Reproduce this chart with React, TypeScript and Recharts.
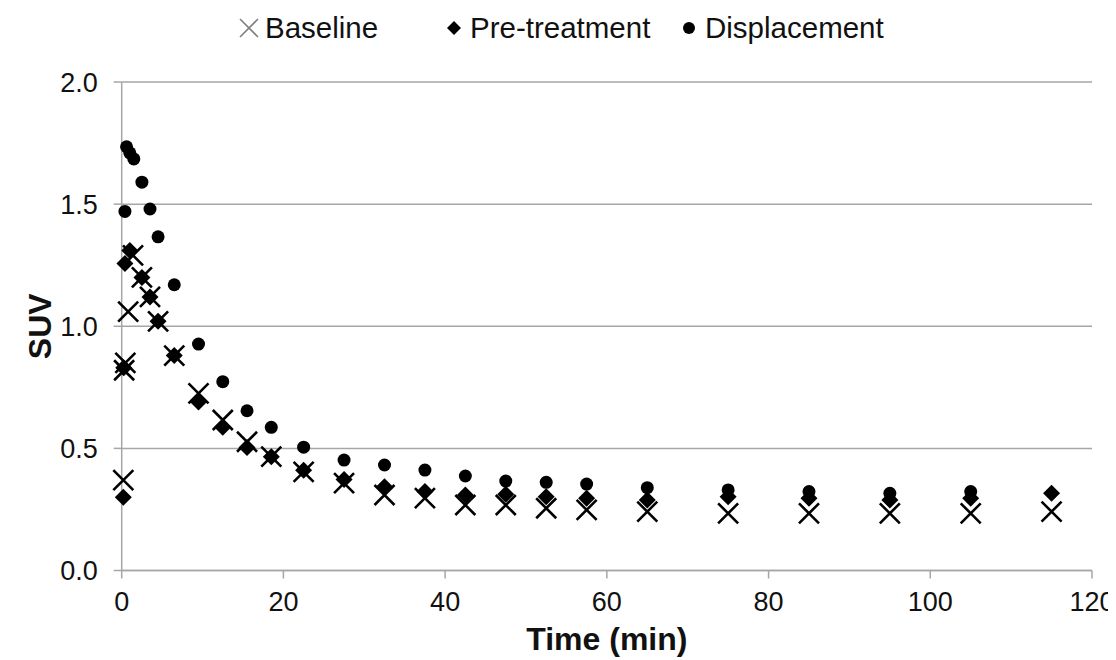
import { ScatterChart, Scatter, XAxis, YAxis, CartesianGrid, Legend } from "recharts"

// time (min) and SUV per scan
const baselineTime = [0.2, 0.3, 0.45, 0.8, 1.4, 2.5, 3.5, 4.5, 6.5, 9.5, 12.5, 15.5, 18.5, 22.5, 27.5, 32.5, 37.5, 42.5, 47.5, 52.5, 57.5, 65, 75, 85, 95, 105, 115]
const baselineSuv = [0.37, 0.82, 0.85, 1.06, 1.29, 1.2, 1.12, 1.02, 0.88, 0.725, 0.616, 0.527, 0.466, 0.404, 0.358, 0.309, 0.296, 0.268, 0.268, 0.255, 0.248, 0.241, 0.234, 0.234, 0.234, 0.234, 0.241]

const preTime = [0.2, 0.25, 0.4, 1.0, 2.5, 3.5, 4.5, 6.5, 9.5, 12.5, 15.5, 18.5, 22.5, 27.5, 32.5, 37.5, 42.5, 47.5, 52.5, 57.5, 65, 75, 85, 95, 105, 115]
const preSuv = [0.3, 0.83, 1.257, 1.31, 1.2, 1.12, 1.02, 0.88, 0.69, 0.586, 0.504, 0.466, 0.41, 0.373, 0.343, 0.323, 0.309, 0.312, 0.302, 0.296, 0.289, 0.302, 0.296, 0.289, 0.296, 0.316]

const dispTime = [0.4, 0.6, 1.0, 1.5, 2.5, 3.5, 4.5, 6.5, 9.5, 12.5, 15.5, 18.5, 22.5, 27.5, 32.5, 37.5, 42.5, 47.5, 52.5, 57.5, 65, 75, 85, 95, 105]
const dispSuv = [1.47, 1.735, 1.71, 1.685, 1.59, 1.48, 1.366, 1.17, 0.927, 0.773, 0.654, 0.586, 0.505, 0.452, 0.432, 0.411, 0.387, 0.366, 0.361, 0.354, 0.339, 0.33, 0.323, 0.316, 0.323]

const xTicks = [0, 20, 40, 60, 80, 100, 120]
const yTicks = [0, 0.5, 1, 1.5, 2]

const toPoints = (t: number[], v: number[]) => t.map((x, i) => ({ time: x, suv: v[i] }))

const baseline = toPoints(baselineTime, baselineSuv)
const pre = toPoints(preTime, preSuv)
const disp = toPoints(dispTime, dispSuv)

const FONT = "'Liberation Sans', Arial, sans-serif"
const GRAY = "#a6a6a6"

const CrossShape = (props: any) => {
    const { cx, cy } = props
    const s = 10
    return (
        <path
            d={`M${cx - s},${cy - s}L${cx + s},${cy + s}M${cx - s},${cy + s}L${cx + s},${cy - s}`}
            stroke="#000"
            strokeWidth={2.6}
            fill="none"
        />
    )
}

const DiamondShape = (props: any) => {
    const { cx, cy } = props
    const s = 8.5
    return <path d={`M${cx},${cy - s}L${cx + s},${cy}L${cx},${cy + s}L${cx - s},${cy}Z`} fill="#000" />
}

const DotShape = (props: any) => {
    const { cx, cy } = props
    return <circle cx={cx} cy={cy} r={6.5} fill="#000" />
}

const legendItems = [
    { name: "Baseline", left: 230, icon: "cross" },
    { name: "Pre-treatment", left: 435, icon: "diamond" },
    { name: "Displacement", left: 670, icon: "dot" },
]

const renderLegend = () => (
    <div style={{ position: "relative", width: 1108, height: 40, fontFamily: FONT, fontSize: 29.5, color: "#111" }}>
        {legendItems.map((item) => (
            <div key={item.name} style={{ position: "absolute", left: item.left, top: 0, height: 40, display: "flex", alignItems: "center" }}>
                <svg width={22} height={22} style={{ marginRight: 5 }}>
                    {item.icon === "cross" && <path d="M2,2L20,20M2,20L20,2" stroke="#808080" strokeWidth={1.6} fill="none" />}
                    {item.icon === "diamond" && <path d="M11,4L18,11L11,18L4,11Z" fill="#000" />}
                    {item.icon === "dot" && <circle cx={11} cy={11} r={6} fill="#000" />}
                </svg>
                <span>{item.name}</span>
            </div>
        ))}
    </div>
)

export default function App() {
    return (
        <ScatterChart width={1108} height={652} margin={{ top: 34, right: 24, bottom: 8, left: 0 }}>
            <CartesianGrid vertical={false} stroke={GRAY} strokeWidth={1.5} />
            <XAxis
                type="number"
                dataKey="time"
                domain={[0, 120]}
                ticks={xTicks}
                height={81.5}
                stroke={GRAY}
                strokeWidth={1.5}
                tickSize={8}
                tickMargin={13}
                tick={{ fill: "#111", fontSize: 27, fontFamily: FONT }}
                label={{ value: "Time (min)", position: "insideBottom", offset: 2, style: { fontSize: 32, fontWeight: "bold", fill: "#111", fontFamily: FONT } }}
            />
            <YAxis
                type="number"
                dataKey="suv"
                domain={[0, 2]}
                ticks={yTicks}
                width={113.7}
                stroke={GRAY}
                strokeWidth={1.5}
                tickSize={8}
                tickMargin={16}
                tickFormatter={(v: number) => v.toFixed(1)}
                tick={{ fill: "#111", fontSize: 27, fontFamily: FONT }}
                label={{ value: "SUV", angle: -90, position: "insideLeft", offset: 32, style: { textAnchor: "middle", fontSize: 32, fontWeight: "bold", fill: "#111", fontFamily: FONT } }}
            />
            <Legend verticalAlign="top" content={renderLegend} wrapperStyle={{ top: 0, left: 0, width: 1108, height: 40 }} />
            <Scatter name="Baseline" data={baseline} shape={CrossShape} isAnimationActive={false} />
            <Scatter name="Pre-treatment" data={pre} shape={DiamondShape} isAnimationActive={false} />
            <Scatter name="Displacement" data={disp} shape={DotShape} isAnimationActive={false} />
        </ScatterChart>
    )
}
